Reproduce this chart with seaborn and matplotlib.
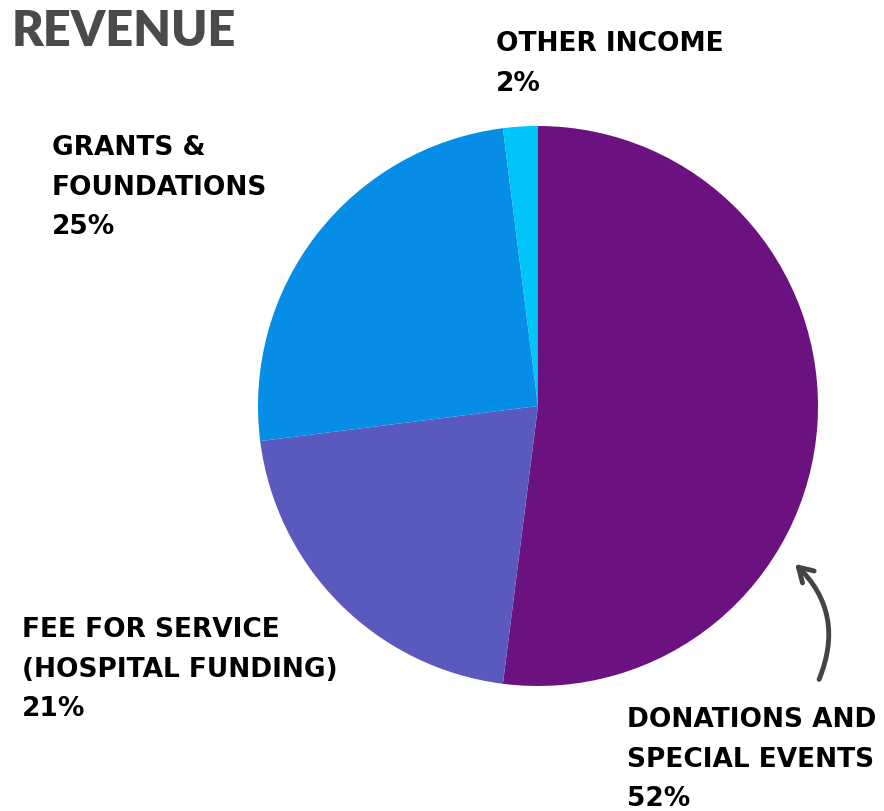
import seaborn as sns
from matplotlib import pyplot as plt
from matplotlib.patches import FancyArrowPatch

# revenue shares, clockwise from 12 o'clock
categories = ["DONATIONS AND\nSPECIAL EVENTS", "FEE FOR SERVICE\n(HOSPITAL FUNDING)",
              "GRANTS &\nFOUNDATIONS", "OTHER INCOME"]
shares = [52, 21, 25, 2]
colors = ["#6b1180", "#5a59bd", "#068ee7", "#00c3f8"]


def make_pie():
    sns.set_theme(style="white")
    plt.rcParams["font.family"] = ["DejaVu Sans"]
    fig = plt.figure(figsize=(8.84, 8.11), dpi=100)
    ax = fig.add_axes([0, 0, 1, 1])
    H = 811
    ax.pie(shares, colors=colors, startangle=90, counterclock=False,
           center=(538, H - 406), radius=280, wedgeprops=dict(linewidth=0))
    ax.set_xlim(0, 884)
    ax.set_ylim(0, H)
    ax.set_aspect("equal")
    ax.axis("off")

    ax.text(12, H - 32, "REVENUE", fontsize=35, fontweight="heavy",
            family=["Lato"], color="#4a4a4a", va="center", ha="left")

    # label anchor = centre of first line (pixels from top-left)
    spots = [(627, 718), (22, 628), (52, 146), (496, 42)]
    for name, pct, (x, y) in zip(categories, shares, spots):
        ax.text(x, H - y + 11, f"{name}\n{pct}%", fontsize=19, fontweight="bold",
                color="black", ha="left", va="top", linespacing=1.68)

    arrow = FancyArrowPatch((818, H - 682), (793, H - 562),
                            connectionstyle="arc3,rad=0.35",
                            arrowstyle="->,head_length=10,head_width=6",
                            color="#444444", lw=3.5, capstyle="round")
    ax.add_patch(arrow)

    fig.savefig("out.png", dpi=100, facecolor="white")


if __name__ == "__main__":
    make_pie()
